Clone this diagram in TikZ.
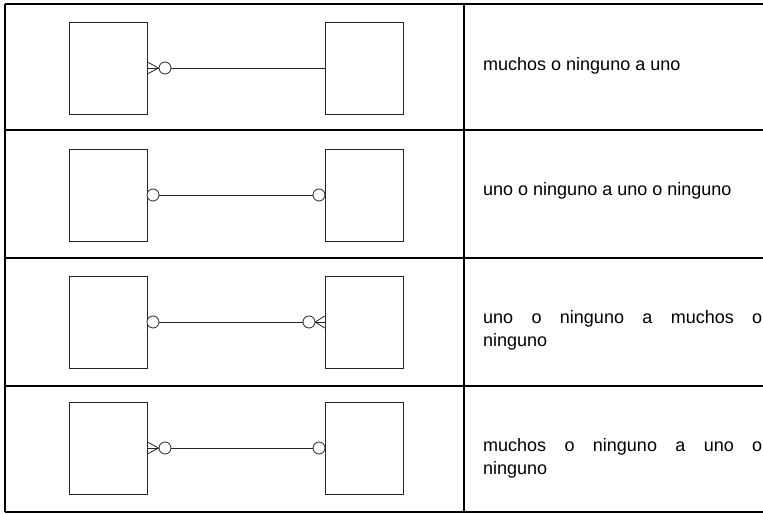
\documentclass[tikz,border=0pt]{standalone}
\usepackage{fontspec}
\setmainfont{Liberation Sans}
\usetikzlibrary{positioning}

\begin{document}
\begin{tikzpicture}[x=1pt, y=-1pt,
    entity/.style={rectangle, draw=black!85, line width=0.8pt,
        minimum width=78pt, minimum height=92pt, inner sep=0pt},
    ring/.style={circle, draw=black!85, fill=white, line width=0.8pt,
        minimum size=12pt, inner sep=0pt},
    link/.style={draw=black!85, line width=0.8pt},
    rule/.style={draw=black, line width=1.5pt},
    phrase/.style={font=\fontsize{18}{23}\selectfont, inner sep=0pt, anchor=base west},
    wide/.style={phrase, anchor=west, text width=279pt, align=justify}
]
    \useasboundingbox (0,0) rectangle (763,514);

    % table
    \draw[rule] (5,4) -- (763,4);
    \draw[rule] (5,130) -- (763,130);
    \draw[rule] (5,258) -- (763,258);
    \draw[rule] (5,386) -- (763,386);
    \draw[rule] (5,512) -- (763,512);
    \draw[rule] (5,4) -- (5,512);
    \draw[rule] (464,4) -- (464,512);

    % row 1: muchos o ninguno a uno
    \node[entity] (a1) at (108,68) {};
    \node[entity] (b1) at (364,68) {};
    \node[ring] (p1) at (165,68) {};
    \draw[link] (p1) -- (b1);
    \draw[link] ([yshift=6pt]a1.east) -- (p1.west) -- ([yshift=-6pt]a1.east);
    \draw[link] (a1.east) -- (p1.west);
    \node[phrase] (t1) at (483,70) {muchos o ninguno a uno};

    % row 2: uno o ninguno a uno o ninguno
    \node[entity] (a2) at (108,195) {};
    \node[entity] (b2) at (364,195) {};
    \node[ring] (p2) at (153,195) {};
    \node[ring] (q2) at (319,195) {};
    \draw[link] (p2) -- (q2);
    \node[phrase] (t2) at (483,195) {uno o ninguno a uno o ninguno};

    % row 3: uno o ninguno a muchos o ninguno
    \node[entity] (a3) at (108,322) {};
    \node[entity] (b3) at (364,322) {};
    \node[ring] (p3) at (153,322) {};
    \node[ring] (q3) at (309,322) {};
    \draw[link] (p3) -- (q3);
    \draw[link] ([yshift=6pt]b3.west) -- (q3.east) -- ([yshift=-6pt]b3.west);
    \draw[link] (q3.east) -- (b3.west);
    \node[wide] (t3) at (483,330) {uno o ninguno a muchos o\linebreak ninguno};

    % row 4: muchos o ninguno a uno o ninguno
    \node[entity] (a4) at (108,448) {};
    \node[entity] (b4) at (364,448) {};
    \node[ring] (p4) at (165,448) {};
    \node[ring] (q4) at (319,448) {};
    \draw[link] (p4) -- (q4);
    \draw[link] ([yshift=6pt]a4.east) -- (p4.west) -- ([yshift=-6pt]a4.east);
    \draw[link] (a4.east) -- (p4.west);
    \node[wide] (t4) at (483,458) {muchos o ninguno a uno o\linebreak ninguno};
\end{tikzpicture}
\end{document}
